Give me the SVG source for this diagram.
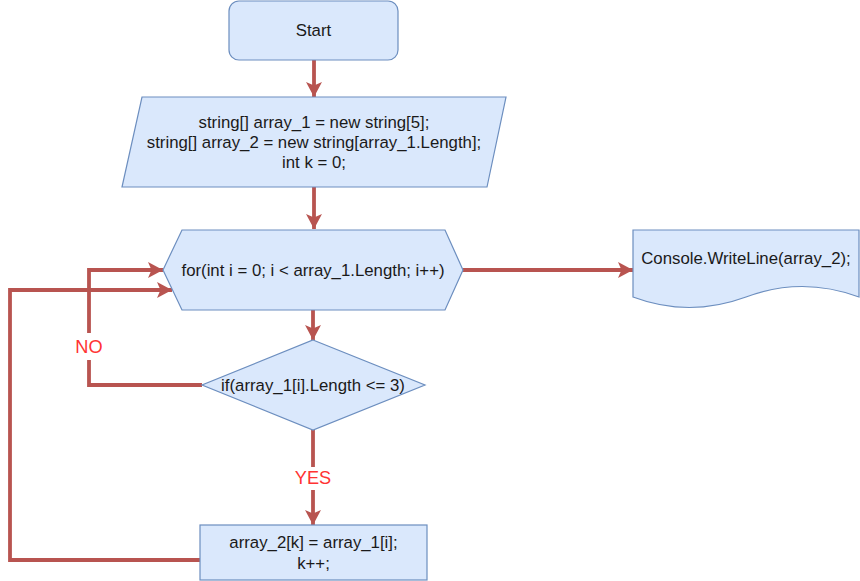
<svg xmlns="http://www.w3.org/2000/svg" width="860" height="581" viewBox="0 0 860 581">
<defs>
<marker id="arr" markerUnits="userSpaceOnUse" markerWidth="18" markerHeight="18" refX="15" refY="8" orient="auto">
<path d="M0,0 L15,8 L0,16 L3.5,8 Z" fill="#b85450"/>
</marker>
</defs>
<style>
.shape{fill:#dae8fc;stroke:#6c8ebf;stroke-width:1.2}
.t{font-family:"Liberation Sans",Arial,sans-serif;font-size:16.8px;fill:#1a1a1a;text-anchor:middle}
.lbl{font-family:"Liberation Sans",Arial,sans-serif;font-size:18.2px;fill:#ff3333;text-anchor:middle}
.c{fill:none;stroke:#b85450;stroke-width:3.8;marker-end:url(#arr)}
</style>
<rect width="860" height="581" fill="#ffffff"/>
<g id="connectors">
<path class="c" d="M314,60 V97"/>
<path class="c" d="M314,187 V229"/>
<path class="c" d="M463,270 H633"/>
<path class="c" d="M313,310 V340"/>
<path class="c" d="M202,385 H89 V270 H163"/>
<path class="c" d="M313,430 V525"/>
<path class="c" d="M200,560 H10 V290 H172"/>
<rect x="74" y="333" width="32" height="27" fill="#ffffff"/>
<text class="lbl" x="89" y="353">NO</text>
<rect x="293" y="467" width="40" height="23" fill="#ffffff"/>
<text class="lbl" x="313" y="483.5">YES</text>
</g>
<g id="start">
<rect class="shape" x="229" y="1" width="169" height="59" rx="10"/>
<text class="t" x="313.5" y="35.5">Start</text>
</g>
<g id="init">
<polygon class="shape" points="142,97 506,97 487,187 122,187"/>
<text class="t" x="314" y="128">string[] array_1 = new string[5];</text>
<text class="t" x="314" y="148">string[] array_2 = new string[array_1.Length];</text>
<text class="t" x="314" y="167.5">int k = 0;</text>
</g>
<g id="loop">
<polygon class="shape" points="163,270 182,230 445,230 463,270 445,310 182,310"/>
<text class="t" x="313" y="276">for(int i = 0; i &lt; array_1.Length; i++)</text>
</g>
<g id="output">
<path class="shape" d="M633,230 H859 V297 Q802,276 746,297 Q689,318 633,297 Z"/>
<text class="t" x="746" y="263.5">Console.WriteLine(array_2);</text>
</g>
<g id="cond">
<polygon class="shape" points="313,340 425,385 313,430 202,385"/>
<text class="t" x="313" y="391">if(array_1[i].Length &lt;= 3)</text>
</g>
<g id="assign">
<rect class="shape" x="200" y="525" width="227" height="55"/>
<text class="t" x="313.5" y="548">array_2[k] = array_1[i];</text>
<text class="t" x="313.5" y="569">k++;</text>
</g>
</svg>
